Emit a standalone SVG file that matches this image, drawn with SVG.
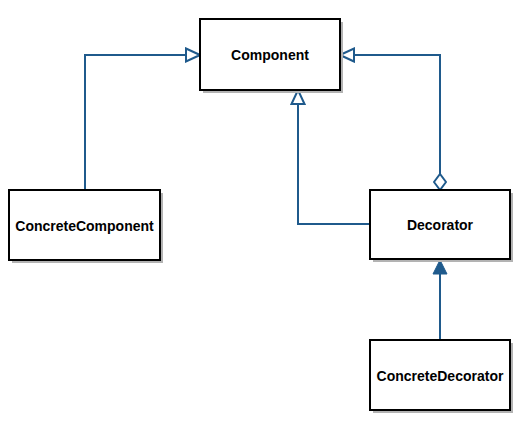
<svg xmlns="http://www.w3.org/2000/svg" width="530" height="430" viewBox="0 0 530 430">
<defs>
<style>
.shadow{fill:#b3b3b3;stroke:none}
.box{fill:#fff;stroke:#000;stroke-width:2}
.lbl{font-family:"Liberation Sans",Arial,sans-serif;font-size:14px;font-weight:bold;fill:#000;text-anchor:middle}
.edge{fill:none;stroke:#1f5a8c;stroke-width:2}
</style>
<marker id="hollow" viewBox="0 0 16 16" refX="15" refY="8" markerWidth="16" markerHeight="16" markerUnits="userSpaceOnUse" orient="auto">
<path d="M1,1.5 L15,8 L1,14.5 Z" fill="#fff" stroke="#1f5a8c" stroke-width="2"/>
</marker>
<marker id="filled" viewBox="0 0 16 16" refX="15" refY="8" markerWidth="16" markerHeight="16" markerUnits="userSpaceOnUse" orient="auto">
<path d="M1,1 L15,8 L1,15 Z" fill="#1f5a8c" stroke="#1f5a8c" stroke-width="1"/>
</marker>
<marker id="diamond" viewBox="0 0 18 14" refX="1" refY="7" markerWidth="18" markerHeight="14" markerUnits="userSpaceOnUse" orient="auto">
<path d="M1,7 L9,1 L17,7 L9,13 Z" fill="#fff" stroke="#1f5a8c" stroke-width="2"/>
</marker>
</defs>
<rect width="530" height="430" fill="#fff"/>
<g id="connectors">
<path class="edge" d="M85,190 L85,55 L200,55" marker-end="url(#hollow)"/>
<path class="edge" d="M370,224 L298,224 L298,90" marker-end="url(#hollow)"/>
<path class="edge" d="M440,190 L440,55 L340,55" marker-start="url(#diamond)" marker-end="url(#hollow)"/>
<path class="edge" d="M440,340 L440,260" marker-end="url(#filled)"/>
</g>
<g id="Component">
<rect class="shadow" x="203" y="22" width="140" height="71"/>
<rect class="box" x="200" y="19" width="140" height="71"/>
<text class="lbl" x="270" y="60">Component</text>
</g>
<g id="ConcreteComponent">
<rect class="shadow" x="12" y="193" width="151" height="70"/>
<rect class="box" x="9" y="190" width="151" height="70"/>
<text class="lbl" x="84.5" y="231">ConcreteComponent</text>
</g>
<g id="Decorator">
<rect class="shadow" x="373" y="193" width="140" height="69"/>
<rect class="box" x="370" y="190" width="140" height="69"/>
<text class="lbl" x="440" y="230">Decorator</text>
</g>
<g id="ConcreteDecorator">
<rect class="shadow" x="373" y="343" width="140" height="70"/>
<rect class="box" x="370" y="340" width="140" height="70"/>
<text class="lbl" x="440" y="381">ConcreteDecorator</text>
</g>
</svg>
